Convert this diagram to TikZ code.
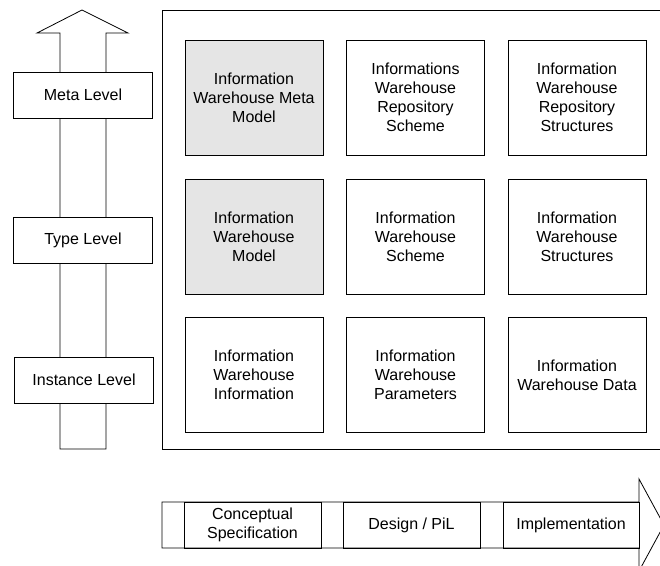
\documentclass[tikz,border=0pt]{standalone}
\usepackage{fontspec}
\setmainfont{Liberation Sans}
\begin{document}
\begin{tikzpicture}[x=1pt,y=-1pt,
  line width=0.8pt,
  every node/.style={font=\fontsize{16}{19}\selectfont, align=center},
  cell/.style={draw, minimum width=138pt, minimum height=115pt, inner sep=0pt},
  graycell/.style={cell, fill=black!10},
  levelbox/.style={draw, fill=white, minimum width=139pt, minimum height=46pt, inner sep=0pt},
  segbox/.style={draw, minimum height=46pt, inner sep=0pt}
]
\useasboundingbox (0,0) rectangle (660,565);
\clip (0,0) rectangle (660,565);

% left upward arrow
\draw (60,449) -- (60,33) -- (37,33) -- (82,10) -- (128,33) -- (106,33) -- (106,449) -- cycle;

% level boxes
\node[levelbox] (meta) at (83,95) {Meta Level};
\node[levelbox] (type) at (83,240.5) {Type Level};
\node[levelbox] (inst) at (84,380) {Instance Level};

% frame (open to the right)
\draw (670,10) -- (162,10) -- (162,449) -- (670,449);

% grid
\node[graycell] (c11) at (254,97.5) {Information\\Warehouse Meta\\Model};
\node[cell] (c12) at (415.5,97.5) {Informations\\Warehouse\\Repository\\Scheme};
\node[cell] (c13) at (577,97.5) {Information\\Warehouse\\Repository\\Structures};
\node[graycell] (c21) at (254,236.5) {Information\\Warehouse\\Model};
\node[cell] (c22) at (415.5,236.5) {Information\\Warehouse\\Scheme};
\node[cell] (c23) at (577,236.5) {Information\\Warehouse\\Structures};
\node[cell] (c31) at (254,375) {Information\\Warehouse\\Information};
\node[cell] (c32) at (415.5,375) {Information\\Warehouse\\Parameters};
\node[cell] (c33) at (577,375) {Information\\Warehouse Data};

% bottom right arrow
\draw (162,502) -- (639,502) -- (639,479) -- (664,525) -- (639,571) -- (639,548) -- (162,548) -- cycle;
\node[segbox, minimum width=137pt] (s1) at (252.5,525) {Conceptual\\Specification};
\node[segbox, minimum width=137pt] (s2) at (411.5,525) {Design / PiL};
\node[segbox, minimum width=136pt] (s3) at (571,525) {Implementation};
\end{tikzpicture}
\end{document}
